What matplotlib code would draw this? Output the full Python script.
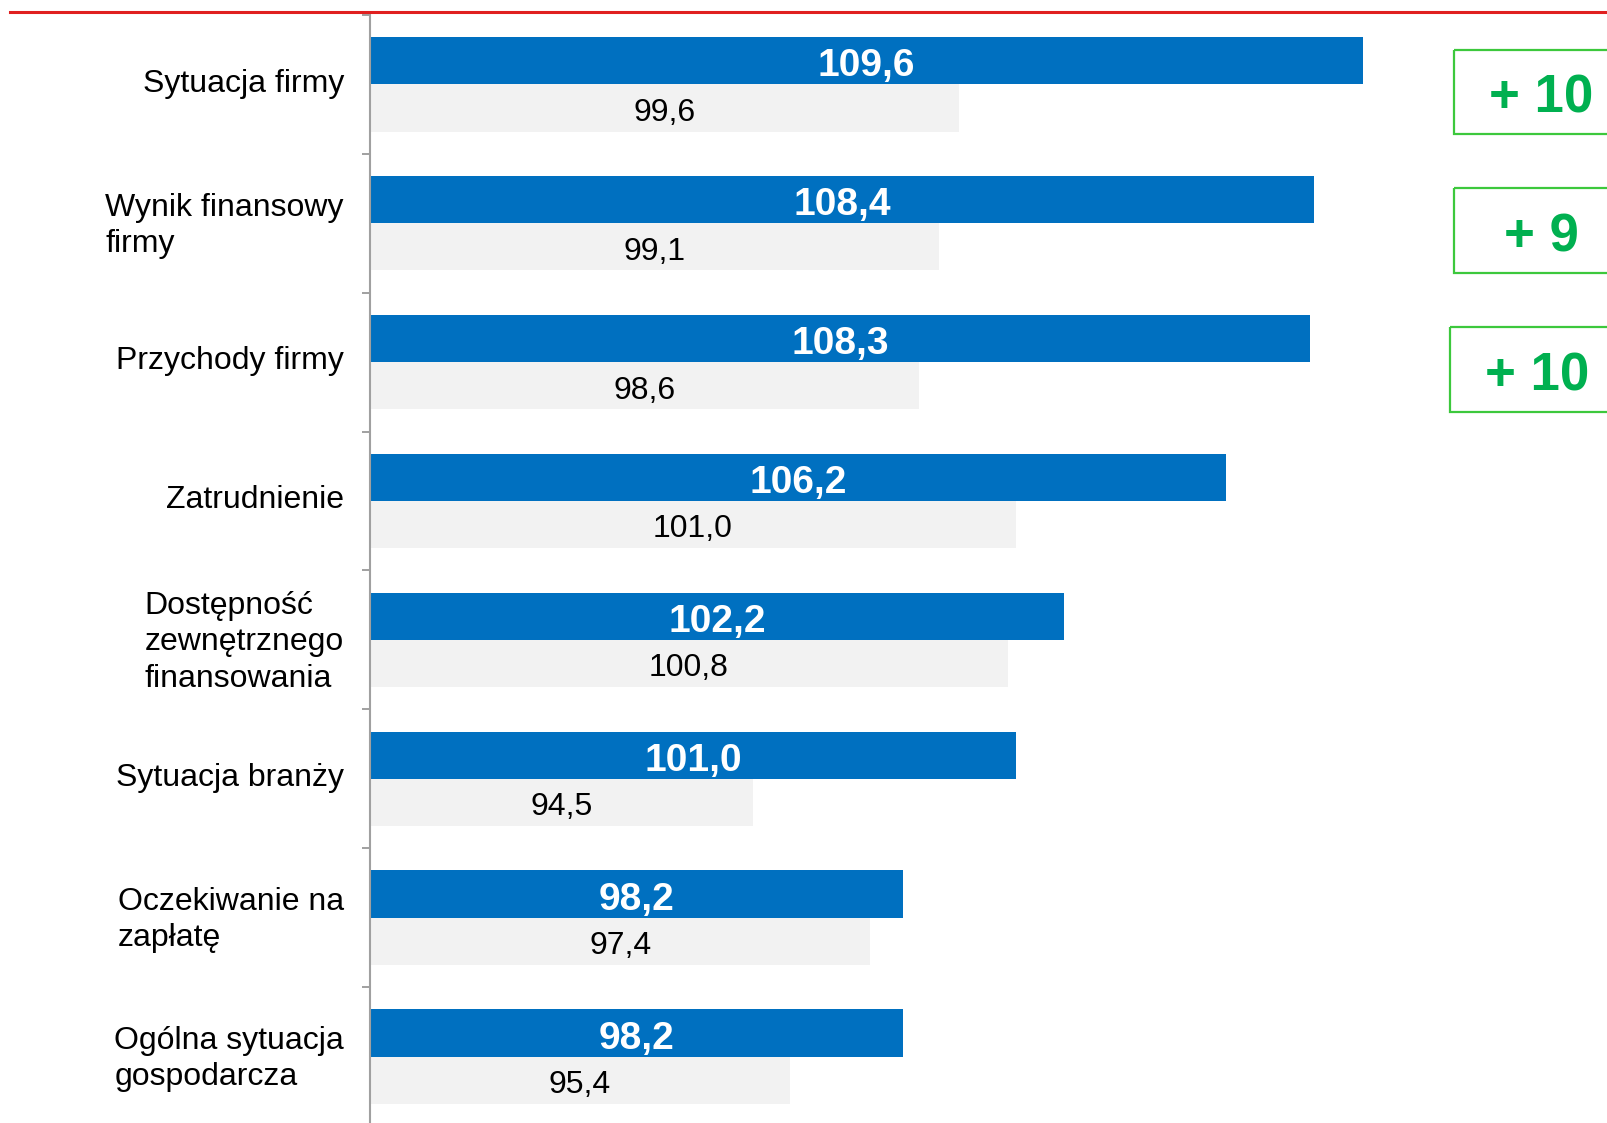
import matplotlib
matplotlib.use("Agg")
import matplotlib.pyplot as plt
from matplotlib.patches import Rectangle
from matplotlib.lines import Line2D

plt.rcParams['font.family'] = ['Liberation Sans', 'DejaVu Sans']

categories = ['Sytuacja firmy', 'Wynik finansowy\nfirmy', 'Przychody firmy', 'Zatrudnienie',
              'Dostępność\nzewnętrznego\nfinansowania', 'Sytuacja branży',
              'Oczekiwanie na\nzapłatę', 'Ogólna sytuacja\ngospodarcza']
current = [109.6, 108.4, 108.3, 106.2, 102.2, 101.0, 98.2, 98.2]
previous = [99.6, 99.1, 98.6, 101.0, 100.8, 94.5, 97.4, 95.4]
diff_labels = ['+ 10', '+ 9', '+ 10']

BLUE = '#0070C0'
GREY = '#F2F2F2'
GREEN = '#00B050'
AXIS = '#A0A0A0'


def fmt(v):
    return '{:.1f}'.format(v).replace('.', ',')


fig = plt.figure(figsize=(16.07, 11.23), dpi=100)
ax = fig.add_axes([0.2302, -0.0027, 0.7698, 0.9895])

y = list(range(len(categories)))
ax.barh([i - 0.17 for i in y], current, height=0.34, left=0, color=BLUE)
ax.barh([i + 0.17 for i in y], previous, height=0.34, left=0, color=GREY)

ax.set_xlim(85, 115.65)
ax.set_ylim(len(categories) - 0.5, -0.5)

for i in y:
    ax.text((85 + current[i]) / 2, i - 0.13, fmt(current[i]), ha='center', va='center',
            color='white', fontsize=28, fontweight='bold')
    ax.text((85 + previous[i]) / 2, i + 0.205, fmt(previous[i]), ha='center', va='center',
            color='black', fontsize=23)

# green change boxes
for i, lab in enumerate(diff_labels):
    x0 = 111.87 if i < 2 else 111.77
    ax.add_patch(Rectangle((x0, i + 0.055 - 0.305), 6, 0.61, fill=False,
                           edgecolor='#3CC83C', lw=1.6, clip_on=False))
    ax.text(x0 + 2.15, i + 0.105, lab, ha='center', va='center',
            color=GREEN, fontsize=38, fontweight='bold', clip_on=False)

ax.set_yticks([i - 0.03 for i in y])
ax.set_yticklabels(categories, fontsize=23, linespacing=1.28)
for lab in ax.get_yticklabels():
    lab.set_multialignment('left')
ax.tick_params(axis='y', which='major', length=0, pad=18.7)
ax.set_yticks([i - 0.5 for i in range(len(categories) + 1)], minor=True)
ax.tick_params(axis='y', which='minor', length=6, width=1.4, color=AXIS, direction='out')
ax.set_xticks([])

for s in ['top', 'right', 'bottom']:
    ax.spines[s].set_visible(False)
ax.spines['left'].set_color(AXIS)
ax.spines['left'].set_linewidth(1.5)

# red line at top
fig.add_artist(Line2D([10 / 1607, 1], [1 - 12 / 1123, 1 - 12 / 1123], color='#E02020',
                      lw=2.2, transform=fig.transFigure))

fig.savefig('out.png', dpi=100)
